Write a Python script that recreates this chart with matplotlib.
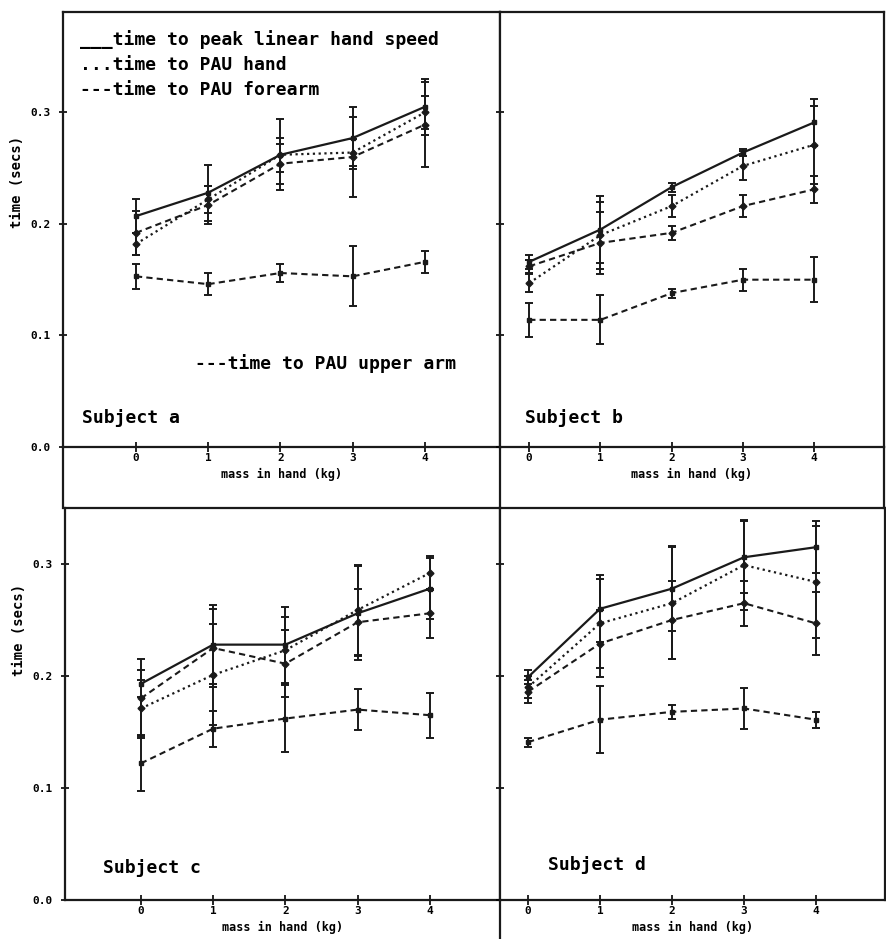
"""
Timing of peak hand speed and peak angular velocity (PAU) vs mass in hand,
four subjects, redrawn in the style of an old dot-matrix printout.
"""

import matplotlib
matplotlib.use("Agg")
import matplotlib.pyplot as plt
from matplotlib.lines import Line2D

# ── Data ──────────────────────────────────────────────────────────────────────
MASS = [0, 1, 2, 3, 4]
X_TICK_LABELS = ["0", "1", "2", "3", "4"]
Y_TICKS = [0.0, 0.1, 0.2, 0.3]
Y_TICK_LABELS = ["0.0", "0.1", "0.2", "0.3"]

# subject a
A_SPEED     = [0.207, 0.228, 0.262, 0.277, 0.305]
A_SPEED_ERR = [0.015, 0.025, 0.032, 0.028, 0.025]
A_HAND      = [0.182, 0.222, 0.262, 0.264, 0.300]
A_HAND_ERR  = [0.010, 0.012, 0.015, 0.012, 0.015]
A_FORE      = [0.192, 0.217, 0.254, 0.260, 0.289]
A_FORE_ERR  = [0.020, 0.017, 0.018, 0.036, 0.038]
A_UPPER     = [0.153, 0.146, 0.156, 0.153, 0.166]
A_UPPER_ERR = [0.011, 0.010, 0.008, 0.027, 0.010]

# subject b
B_SPEED     = [0.166, 0.195, 0.233, 0.264, 0.291]
B_SPEED_ERR = [0.006, 0.030, 0.004, 0.003, 0.021]
B_HAND      = [0.147, 0.190, 0.216, 0.252, 0.271]
B_HAND_ERR  = [0.008, 0.030, 0.010, 0.013, 0.035]
B_FORE      = [0.162, 0.183, 0.192, 0.216, 0.231]
B_FORE_ERR  = [0.006, 0.028, 0.006, 0.010, 0.012]
B_UPPER     = [0.114, 0.114, 0.138, 0.150, 0.150]
B_UPPER_ERR = [0.015, 0.022, 0.004, 0.010, 0.020]

# subject c
C_SPEED     = [0.193, 0.228, 0.228, 0.256, 0.278]
C_SPEED_ERR = [0.012, 0.035, 0.034, 0.042, 0.027]
C_HAND      = [0.171, 0.201, 0.223, 0.259, 0.292]
C_HAND_ERR  = [0.025, 0.045, 0.030, 0.040, 0.015]
C_FORE      = [0.180, 0.225, 0.211, 0.248, 0.256]
C_FORE_ERR  = [0.035, 0.035, 0.030, 0.030, 0.022]
C_UPPER     = [0.122, 0.153, 0.162, 0.170, 0.165]
C_UPPER_ERR = [0.025, 0.016, 0.030, 0.018, 0.020]

# subject d
D_SPEED     = [0.199, 0.260, 0.278, 0.306, 0.315]
D_SPEED_ERR = [0.006, 0.030, 0.038, 0.032, 0.023]
D_HAND      = [0.190, 0.247, 0.265, 0.299, 0.284]
D_HAND_ERR  = [0.010, 0.040, 0.050, 0.040, 0.050]
D_FORE      = [0.186, 0.229, 0.250, 0.265, 0.247]
D_FORE_ERR  = [0.010, 0.030, 0.035, 0.020, 0.028]
D_UPPER     = [0.141, 0.161, 0.168, 0.171, 0.161]
D_UPPER_ERR = [0.004, 0.030, 0.006, 0.018, 0.007]

# ── Style ─────────────────────────────────────────────────────────────────────
W, H = 886, 939
INK  = "#1a1a1a"
MONO = "DejaVu Sans Mono"
plt.rcParams["font.family"] = MONO
plt.rcParams["font.weight"] = "bold"

fig = plt.figure(figsize=(W / 100, H / 100), dpi=100)
fig.patch.set_facecolor("white")


def box(l, t, r, b):
    # pixel box (left, top, right, bottom) -> figure fraction rect
    return [l / W, 1 - b / H, (r - l) / W, (b - t) / H]


def vline(x, y0, y1):
    fig.add_artist(Line2D([x / W, x / W], [1 - y0 / H, 1 - y1 / H],
                          transform=fig.transFigure, color=INK, lw=1.6))


def draw_panel(ax, speed, speed_err, hand, hand_err, fore, fore_err,
               upper, upper_err, label, label_xy, xlim, ylim, left):
    common = dict(ecolor=INK, elinewidth=1.4, capsize=3, capthick=1.4,
                  markersize=3.5, color=INK)
    ax.errorbar(MASS, speed, yerr=speed_err, ls="-", lw=1.6, marker="s",
                **common)
    ax.errorbar(MASS, hand, yerr=hand_err, ls=(0, (1, 1.6)), lw=1.6,
                marker="D", **common)
    ax.errorbar(MASS, fore, yerr=fore_err, ls=(0, (3, 2)), lw=1.5,
                marker="D", **common)
    ax.errorbar(MASS, upper, yerr=upper_err, ls=(0, (3, 2)), lw=1.5,
                marker="s", **common)

    ax.set_xlim(*xlim)
    ax.set_ylim(*ylim)
    ax.set_xticks(MASS)
    ax.set_xticklabels(X_TICK_LABELS, fontsize=8, fontweight="bold")
    ax.set_yticks(Y_TICKS)
    ax.tick_params(axis="x", direction="inout", length=7, width=1.2, pad=1)
    ax.tick_params(axis="y", direction="inout", length=6, width=1.2, pad=6)
    if left:
        ax.set_yticklabels(Y_TICK_LABELS, fontsize=8, fontweight="bold")
    else:
        ax.set_yticklabels([])
    ax.set_xlabel("mass in hand (kg)", fontsize=8.5, fontweight="bold",
                  labelpad=3)
    for s in ax.spines.values():
        s.set_linewidth(1.6)
        s.set_color(INK)
    ax.text(label_xy[0], label_xy[1], label, transform=ax.transAxes,
            fontsize=13, fontweight="bold", ha="left", va="center")


# ── Panels ────────────────────────────────────────────────────────────────────
ax_a = fig.add_axes(box(63, 12, 500, 447))
ax_b = fig.add_axes(box(500, 12, 884, 447))
ax_c = fig.add_axes(box(65, 508, 500, 900))
ax_d = fig.add_axes(box(500, 508, 885, 900))

draw_panel(ax_a, A_SPEED, A_SPEED_ERR, A_HAND, A_HAND_ERR, A_FORE, A_FORE_ERR,
           A_UPPER, A_UPPER_ERR, "Subject a", (0.043, 0.067),
           (-1.01, 5.04), (0, 0.39), True)
draw_panel(ax_b, B_SPEED, B_SPEED_ERR, B_HAND, B_HAND_ERR, B_FORE, B_FORE_ERR,
           B_UPPER, B_UPPER_ERR, "Subject b", (0.065, 0.067),
           (-0.41, 4.98), (0, 0.39), False)
draw_panel(ax_c, C_SPEED, C_SPEED_ERR, C_HAND, C_HAND_ERR, C_FORE, C_FORE_ERR,
           C_UPPER, C_UPPER_ERR, "Subject c", (0.087, 0.082),
           (-1.05, 4.97), (0, 0.35), True)
draw_panel(ax_d, D_SPEED, D_SPEED_ERR, D_HAND, D_HAND_ERR, D_FORE, D_FORE_ERR,
           D_UPPER, D_UPPER_ERR, "Subject d", (0.124, 0.09),
           (-0.39, 4.96), (0, 0.35), False)

for ax, yc in [(ax_a, 0.61), (ax_c, 0.69)]:
    ax.set_ylabel("time (secs)", fontsize=10, fontweight="bold")
    ax.yaxis.set_label_coords(-0.09, yc)

# legend, written as plain text like the original printout
legend_lines = ["___time to peak linear hand speed",
                "...time to PAU hand",
                "---time to PAU forearm"]
for i, txt in enumerate(legend_lines):
    ax_a.text(0.039, 0.936 - i * 0.058, txt, transform=ax_a.transAxes,
              fontsize=13, fontweight="bold", ha="left", va="center")
ax_a.text(0.302, 0.193, "---time to PAU upper arm", transform=ax_a.transAxes,
          fontsize=13, fontweight="bold", ha="left", va="center")

# ── Frame lines around the x-axis band of the top row ─────────────────────────
vline(63, 447, 508)
vline(500, 447, 508)
vline(884, 447, 508)
vline(500, 900, 939)

fig.savefig("out.png", dpi=100, facecolor="white")
